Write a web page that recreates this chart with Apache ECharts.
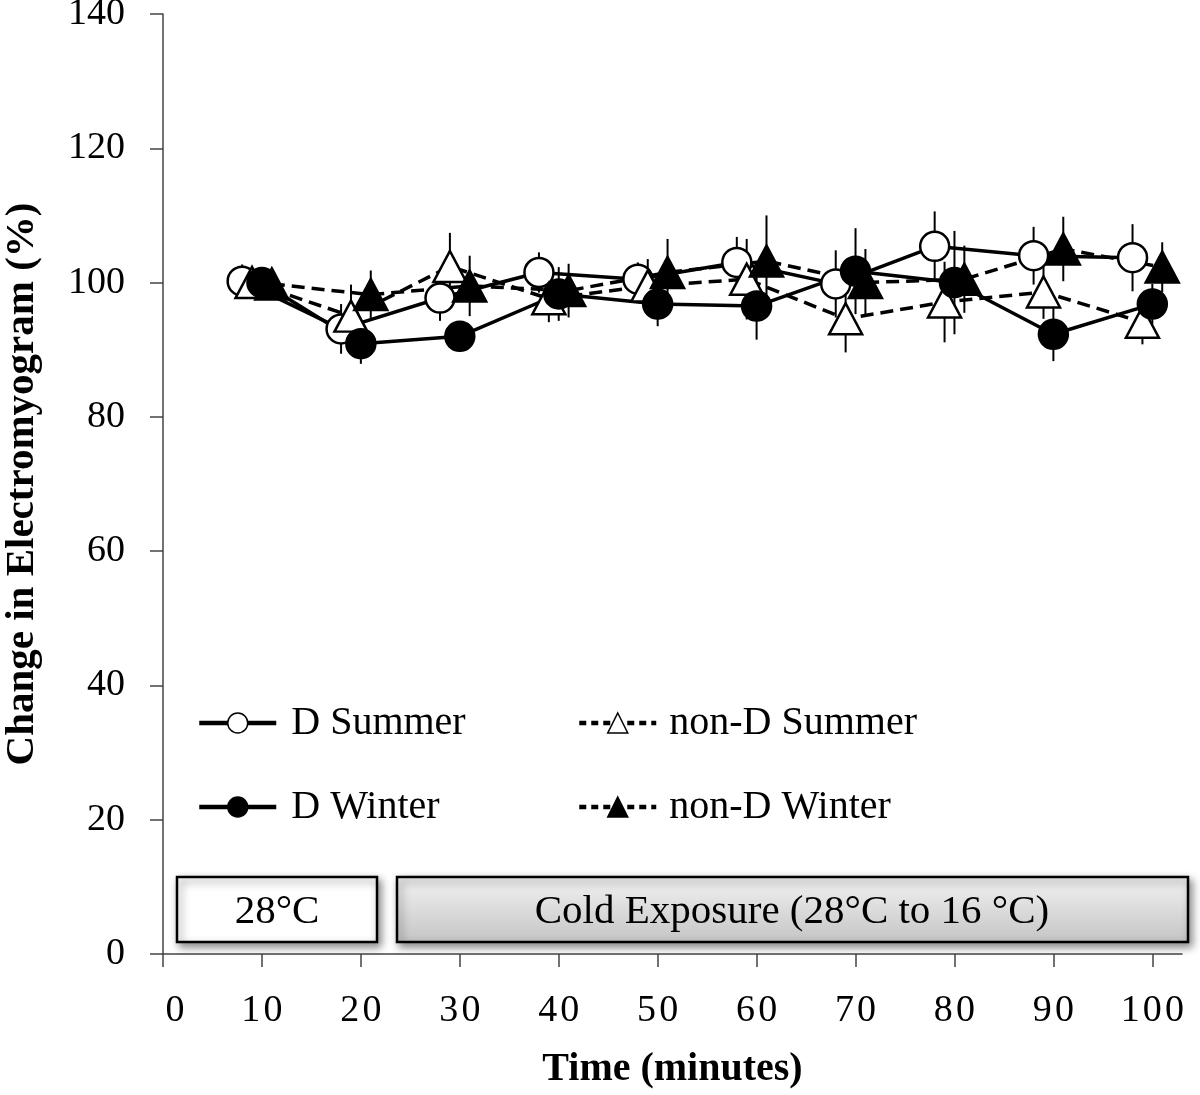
<!DOCTYPE html>
<html>
<head>
<meta charset="utf-8">
<script src="https://cdn.jsdelivr.net/npm/echarts@6/dist/echarts.min.js"></script>
<style>
  html, body { margin: 0; padding: 0; background: #fff; }
  #chart { width: 1200px; height: 1095px; }
</style>
</head>
<body>
<div id="chart"></div>
<script>
// time points (minutes) - each group is plotted slightly offset like the original
const dSummerTime = [8, 18, 28, 38, 48, 58, 68, 78, 88, 98];
const nonDSummerTime = [9, 19, 29, 39, 49, 59, 69, 79, 89, 99];
const dWinterTime = [10, 20, 30, 40, 50, 60, 70, 80, 90, 100];
const nonDWinterTime = [11, 21, 31, 41, 51, 61, 71, 81, 91, 101];

// change in electromyogram (%)
const dSummer = [100.2, 93.1, 97.7, 101.5, 100.5, 103, 99.8, 105.4, 104, 103.7];
const nonDSummer = [100, 95, 102.4, 97.6, 99.5, 100.5, 94.6, 97.1, 98.6, 94.1];
const dWinter = [100, 90.9, 92, 98.3, 96.8, 96.5, 101.7, 100, 92.3, 96.8];
const nonDWinter = [99.8, 98.2, 99.5, 98.8, 101.5, 103.2, 100, 100.5, 105, 102.3];

// error bars (+/-)
const dSummerErr = [2.5, 3.7, 3.4, 3, 2.5, 3.8, 5, 5.2, 4.3, 5];
const nonDSummerErr = [2, 4.7, 5, 3.5, 4, 6, 5, 6, 4, 3.3];
const dWinterErr = [2, 3, 2, 4, 3.3, 5, 6.4, 7.7, 4, 3];
const nonDWinterErr = [2, 3.6, 4.5, 4, 5, 6.8, 5, 5, 4.8, 3.7];

const xTicks = [0, 10, 20, 30, 40, 50, 60, 70, 80, 90, 100];

const FONT = '"Liberation Serif", "Times New Roman", serif';

const pairs = (xs, ys) => xs.map((x, i) => [x, ys[i]]);

const errSeries = (xs, ys, errs) => ({
  type: 'custom',
  silent: true,
  z: 1,
  data: xs.map((x, i) => [x, ys[i] - errs[i], ys[i] + errs[i]]),
  encode: { x: 0, y: [1, 2] },
  renderItem: (params, api) => {
    const lo = api.coord([api.value(0), api.value(1)]);
    const hi = api.coord([api.value(0), api.value(2)]);
    return {
      type: 'line',
      shape: { x1: lo[0], y1: lo[1], x2: hi[0], y2: hi[1] },
      style: { stroke: '#000', lineWidth: 2 }
    };
  }
});

const lineSeries = (name, xs, ys, symbol, fill, dashed) => ({
  name: name,
  type: 'line',
  z: 2,
  data: pairs(xs, ys),
  symbol: symbol,
  symbolSize: symbol === 'circle' ? 29 : [33, 31],
  showAllSymbol: true,
  lineStyle: { color: '#000', width: 3.5, type: dashed ? [13, 7] : 'solid' },
  itemStyle: { color: fill, borderColor: '#000', borderWidth: 2.5, opacity: 1 },
  emphasis: { disabled: true }
});

const legendBase = {
  orient: 'vertical',
  top: 701,
  padding: 0,
  itemWidth: 77,
  itemHeight: 25,
  itemGap: 40,
  selectedMode: false,
  itemStyle: { borderWidth: 1.5 },
  textStyle: { fontFamily: FONT, fontSize: 40, color: '#000', lineHeight: 44 }
};

const chart = echarts.init(document.getElementById('chart'));

chart.setOption({
  animation: false,
  backgroundColor: '#fff',
  grid: { left: 163, right: 18, top: 14, bottom: 141, containLabel: false, outerBoundsMode: 'none' },
  legend: [
    Object.assign({}, legendBase, {
      left: 197,
      data: ['D Summer', 'D Winter'],
      lineStyle: { width: 4.5 },
      textStyle: Object.assign({}, legendBase.textStyle, { padding: [0, 0, 0, 10] })
    }),
    Object.assign({}, legendBase, {
      left: 577,
      data: ['non-D Summer', 'non-D Winter'],
      lineStyle: { width: 4.5, type: [7, 5] },
      textStyle: Object.assign({}, legendBase.textStyle, { padding: [0, 0, 0, 8] })
    })
  ],
  xAxis: {
    type: 'value',
    min: 0,
    max: 103,
    interval: 10,
    name: 'Time (minutes)',
    nameLocation: 'middle',
    nameGap: 96,
    nameTextStyle: { fontFamily: FONT, fontSize: 40, fontWeight: 'bold', color: '#000' },
    splitLine: { show: false },
    axisLine: { lineStyle: { color: '#444', width: 1.5 } },
    axisTick: { length: 13, lineStyle: { color: '#444', width: 1.5 }, customValues: xTicks },
    axisLabel: {
      customValues: xTicks,
      margin: 38,
      fontFamily: FONT,
      fontSize: 38,
      color: '#000',
      formatter: v => v === 0 ? '{z|0}' : String(v).split('').join('\u200A'),
      rich: { z: { fontFamily: FONT, fontSize: 38, color: '#000', padding: [0, 0, 0, 24] } }
    }
  },
  yAxis: {
    type: 'value',
    min: 0,
    max: 140,
    interval: 20,
    name: 'Change in Electromyogram (%)',
    nameLocation: 'middle',
    nameGap: 120,
    nameTextStyle: { fontFamily: FONT, fontSize: 41, fontWeight: 'bold', color: '#000' },
    splitLine: { show: false },
    axisLine: { show: true, lineStyle: { color: '#444', width: 1.5 } },
    axisTick: { show: true, length: 13, lineStyle: { color: '#444', width: 1.5 } },
    axisLabel: { margin: 38, fontFamily: FONT, fontSize: 38, color: '#000' }
  },
  graphic: [
    {
      type: 'rect',
      shape: { x: 177, y: 877, width: 200, height: 65 },
      style: {
        fill: '#fff', stroke: '#000', lineWidth: 2.5,
        shadowBlur: 8, shadowColor: 'rgba(0,0,0,0.45)', shadowOffsetX: 3, shadowOffsetY: 4
      },
      z: 10
    },
    {
      type: 'text',
      x: 277, y: 912,
      style: { text: '28°C', fontFamily: FONT, fontSize: 41, fill: '#000', align: 'center', verticalAlign: 'middle' },
      z: 11
    },
    {
      type: 'rect',
      shape: { x: 397, y: 877, width: 791, height: 65 },
      style: {
        fill: new echarts.graphic.LinearGradient(0, 0, 0, 1, [
          { offset: 0, color: '#f3f3f3' },
          { offset: 1, color: '#c4c4c4' }
        ]),
        stroke: '#000', lineWidth: 2.5,
        shadowBlur: 8, shadowColor: 'rgba(0,0,0,0.45)', shadowOffsetX: 3, shadowOffsetY: 4
      },
      z: 10
    },
    {
      type: 'text',
      x: 792, y: 912,
      style: { text: 'Cold Exposure (28°C to 16 °C)', fontFamily: FONT, fontSize: 41, fill: '#000', align: 'center', verticalAlign: 'middle' },
      z: 11
    }
  ],
  series: [
    errSeries(dSummerTime, dSummer, dSummerErr),
    errSeries(nonDSummerTime, nonDSummer, nonDSummerErr),
    errSeries(dWinterTime, dWinter, dWinterErr),
    errSeries(nonDWinterTime, nonDWinter, nonDWinterErr),
    lineSeries('D Summer', dSummerTime, dSummer, 'circle', '#fff', false),
    lineSeries('non-D Summer', nonDSummerTime, nonDSummer, 'triangle', '#fff', true),
    lineSeries('D Winter', dWinterTime, dWinter, 'circle', '#000', false),
    lineSeries('non-D Winter', nonDWinterTime, nonDWinter, 'triangle', '#000', true)
  ]
});

window.addEventListener('resize', () => chart.resize());
</script>
</body>
</html>
